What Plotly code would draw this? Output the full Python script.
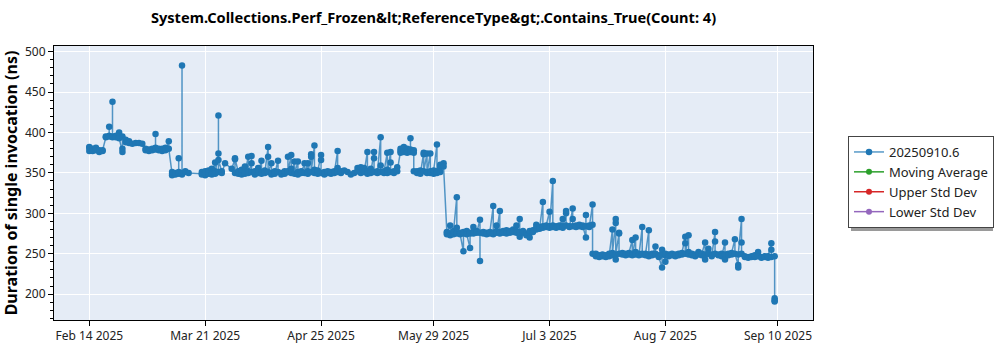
import plotly.graph_objects as go

# ---- data (one entry per day, several runs per day) ----
run_dates = [
    "2025-02-14", "2025-02-15", "2025-02-16", "2025-02-17", "2025-02-18", "2025-02-19", "2025-02-20",
    "2025-02-21", "2025-02-22", "2025-02-23", "2025-02-24", "2025-02-25", "2025-02-26", "2025-02-27",
    "2025-02-28", "2025-03-01", "2025-03-02", "2025-03-03", "2025-03-04", "2025-03-05", "2025-03-06",
    "2025-03-07", "2025-03-08", "2025-03-09", "2025-03-10", "2025-03-11", "2025-03-12", "2025-03-13",
    "2025-03-14", "2025-03-15", "2025-03-16", "2025-03-20", "2025-03-21", "2025-03-22", "2025-03-23",
    "2025-03-24", "2025-03-25", "2025-03-26", "2025-03-27", "2025-03-29", "2025-03-30", "2025-03-31",
    "2025-04-01", "2025-04-02", "2025-04-03", "2025-04-04", "2025-04-05", "2025-04-06", "2025-04-07",
    "2025-04-08", "2025-04-09", "2025-04-10", "2025-04-11", "2025-04-12", "2025-04-13", "2025-04-14",
    "2025-04-15", "2025-04-16", "2025-04-17", "2025-04-18", "2025-04-19", "2025-04-20", "2025-04-21",
    "2025-04-22", "2025-04-23", "2025-04-24", "2025-04-25", "2025-04-26", "2025-04-27", "2025-04-28",
    "2025-04-29", "2025-04-30", "2025-05-01", "2025-05-02", "2025-05-03", "2025-05-04", "2025-05-05",
    "2025-05-06", "2025-05-07", "2025-05-08", "2025-05-09", "2025-05-10", "2025-05-11", "2025-05-12",
    "2025-05-13", "2025-05-14", "2025-05-15", "2025-05-16", "2025-05-17", "2025-05-18", "2025-05-19",
    "2025-05-20", "2025-05-21", "2025-05-22", "2025-05-23", "2025-05-24", "2025-05-25", "2025-05-26",
    "2025-05-27", "2025-05-28", "2025-05-29", "2025-05-30", "2025-05-31", "2025-06-01", "2025-06-02",
    "2025-06-03", "2025-06-04", "2025-06-05", "2025-06-06", "2025-06-07", "2025-06-08", "2025-06-09",
    "2025-06-10", "2025-06-11", "2025-06-12", "2025-06-13", "2025-06-14", "2025-06-15", "2025-06-16",
    "2025-06-17", "2025-06-18", "2025-06-19", "2025-06-20", "2025-06-21", "2025-06-22", "2025-06-23",
    "2025-06-24", "2025-06-25", "2025-06-26", "2025-06-27", "2025-06-28", "2025-06-29", "2025-06-30",
    "2025-07-01", "2025-07-02", "2025-07-03", "2025-07-04", "2025-07-05", "2025-07-06", "2025-07-07",
    "2025-07-08", "2025-07-09", "2025-07-10", "2025-07-11", "2025-07-12", "2025-07-13", "2025-07-14",
    "2025-07-15", "2025-07-16", "2025-07-17", "2025-07-18", "2025-07-19", "2025-07-20", "2025-07-21",
    "2025-07-22", "2025-07-23", "2025-07-24", "2025-07-25", "2025-07-26", "2025-07-27", "2025-07-28",
    "2025-07-29", "2025-07-30", "2025-07-31", "2025-08-01", "2025-08-02", "2025-08-03", "2025-08-04",
    "2025-08-05", "2025-08-06", "2025-08-07", "2025-08-08", "2025-08-09", "2025-08-10", "2025-08-11",
    "2025-08-12", "2025-08-13", "2025-08-14", "2025-08-15", "2025-08-16", "2025-08-17", "2025-08-18",
    "2025-08-19", "2025-08-20", "2025-08-21", "2025-08-22", "2025-08-23", "2025-08-24", "2025-08-25",
    "2025-08-26", "2025-08-27", "2025-08-28", "2025-08-29", "2025-08-30", "2025-08-31", "2025-09-01",
    "2025-09-02", "2025-09-03", "2025-09-04", "2025-09-05", "2025-09-06", "2025-09-07", "2025-09-08",
    "2025-09-09",
]

run_values = [
    [382, 377, 381], [380, 377], [381, 378], [376, 378], [377, 378], [394, 395], [396, 407, 395],
    [395, 438, 394], [396, 394], [400, 395, 393], [376, 380, 395], [391, 388], [389, 387], [386],
    [387], [387], [386], [380, 378], [379, 377], [378, 380], [381, 398, 379],
    [378, 380], [379, 377, 380], [381, 378], [389, 380], [349, 347, 351], [350, 348], [349, 368, 351],
    [348, 483, 350], [351, 352], [350], [349, 351, 348], [352, 347, 350], [349, 353, 351], [355, 350, 348],
    [363, 352, 349], [374, 421, 351, 366], [352, 350], [362], [355], [367, 350, 368], [351, 349, 352],
    [350, 348, 354], [351, 358, 349], [370, 352, 350], [362, 371, 351], [350, 348, 352], [356, 350], [365, 351, 349],
    [353, 350], [382, 370, 351], [362, 350, 348], [352, 349], [365, 351], [350, 348], [349, 352],
    [351, 370, 352], [372, 355, 350], [364, 349], [364, 351, 348], [352, 350], [362, 350], [362, 352, 349],
    [373, 370, 351], [384, 354, 350], [351, 349, 353], [372, 366, 350], [351, 348], [350, 352], [349, 351],
    [352, 350], [377, 356, 351], [350, 352], [353], [351], [348], [350],
    [356, 352], [357, 350], [356, 351], [376, 352, 349], [355, 350], [376, 368, 351], [352, 350],
    [394, 359, 351], [350, 352], [375, 354, 350], [376, 363, 351], [352, 350], [357, 352], [377, 375, 380],
    [378, 382, 376], [380, 377, 375], [379, 393, 376], [378, 375, 352], [352, 350], [351, 353, 349], [375, 373, 352],
    [374, 351, 350], [374, 352, 350], [351, 349, 353], [385, 352, 350], [360, 357, 351], [362, 358], [276, 274, 277],
    [285, 275, 273], [276, 274, 278], [320, 282, 275], [276, 274], [253, 275, 277], [276, 278, 274], [257, 276, 275],
    [283, 277, 275], [278, 276], [292, 241, 276], [275, 277], [276, 274], [275, 277], [309, 276, 274],
    [278, 285, 276], [303, 277, 275], [278, 276], [277, 279, 275], [278, 276], [280, 277], [285, 278, 276],
    [293, 271, 277], [276, 278], [275, 273], [270, 276, 278], [279, 277], [286, 282, 280], [283, 281],
    [314, 284, 282], [283, 285], [302, 284, 282], [340, 285, 283], [284, 282], [283, 285], [293, 284, 282],
    [300, 303, 285], [284, 283], [306, 293, 284], [285, 283], [284, 286], [283, 285], [270, 298, 284],
    [285, 283], [311, 286, 250], [249, 247, 250], [248, 246], [247, 249], [246, 248], [250, 247],
    [280, 248, 251], [288, 293, 243, 249], [275, 276, 250], [251, 249], [250, 248], [249, 251], [267, 250, 248],
    [270, 252, 249], [250, 248], [283, 250, 249], [248, 250], [279, 249, 247], [250, 248], [259, 249, 250],
    [248, 246], [233, 249, 255], [240, 248, 250], [249, 247], [250, 248], [249, 247], [250, 248],
    [249, 251], [271, 263, 250], [273, 252, 249], [250, 248], [249, 247], [252, 249], [248, 250],
    [264, 243, 249], [256, 250], [249, 247], [277, 265, 250], [249, 248], [250, 247], [264, 249, 243],
    [250, 248], [249, 251], [268, 250], [236, 233, 249], [293, 264, 250], [247, 246], [246, 245],
    [247, 246], [246, 248], [252, 247], [246, 245], [247, 246], [245, 247], [263, 255, 246],
    [247, 195, 192, 191],
]

series_name = "20250910.6"
extra_series = ["Moving Average", "Upper Std Dev", "Lower Std Dev"]
extra_colors = ["#2ca02c", "#d62728", "#9467bd"]

tick_dates = ["2025-02-14", "2025-03-21", "2025-04-25", "2025-05-29", "2025-07-03", "2025-08-07", "2025-09-10"]
tick_labels = ["Feb 14 2025", "Mar 21 2025", "Apr 25 2025", "May 29 2025", "Jul 3 2025", "Aug 7 2025", "Sep 10 2025"]

title_text = "System.Collections.Perf_Frozen&amp;lt;ReferenceType&amp;gt;.Contains_True(Count: 4)"
y_title = "Duration of single invocation (ns)"

# flatten (runs on the same day share the day)
xs, ys = [], []
for d, vals in zip(run_dates, run_values):
    for v in vals:
        xs.append(d)
        ys.append(v)

FONT = "Noto Sans"
BLUE = "#1f77b4"

fig = go.Figure()
fig.add_trace(go.Scatter(
    x=xs, y=ys, mode="lines+markers", name=series_name,
    line=dict(color="rgba(31,119,180,0.75)", width=1.5),
    marker=dict(color=BLUE, size=6.5),
))
for nm, col in zip(extra_series, extra_colors):
    fig.add_trace(go.Scatter(
        x=[None], y=[None], mode="lines+markers", name=nm,
        line=dict(color=col, width=1.5), marker=dict(color=col, size=6),
    ))

W, H = 1000, 350
ML, MR, MT, MB = 54, 187, 46, 30
pw, ph = W - ML - MR, H - MT - MB

def px_to_paper_x(p):
    return (p - ML) / pw

def px_to_paper_y(p):
    return (H - MB - p) / ph

# legend shadow
fig.add_shape(type="rect", xref="paper", yref="paper",
              x0=px_to_paper_x(851), x1=px_to_paper_x(993),
              y0=px_to_paper_y(231), y1=px_to_paper_y(139),
              fillcolor="#9a9a9a", line=dict(width=0), layer="above")

fig.update_layout(
    width=W, height=H,
    margin=dict(l=ML, r=MR, t=MT, b=MB, autoexpand=False),
    paper_bgcolor="white",
    plot_bgcolor="#E5ECF6",
    font=dict(family=FONT, size=12, color="#222"),
    title=dict(text=title_text, x=0.5, xref="paper", y=1 - 18 / H, yref="container",
               xanchor="center", yanchor="middle",
               font=dict(family=FONT, size=14.6, color="black", weight="bold")),
    showlegend=True,
    legend=dict(x=848 / W, y=1 - 136 / H, xref="container", yref="container",
                xanchor="left", yanchor="top",
                bgcolor="white", bordercolor="#444", borderwidth=1,
                font=dict(family=FONT, size=13, color="#222"), itemwidth=30,
                entrywidth=97, entrywidthmode="pixels"),
    hovermode=False,
)

fig.update_xaxes(
    type="date",
    range=["2025-02-03 08:00", "2025-09-20 14:00"],
    tickvals=tick_dates, ticktext=tick_labels,
    showgrid=True, gridcolor="white", gridwidth=1,
    showline=True, linecolor="black", linewidth=1, mirror=True,
    ticks="outside", ticklen=5, tickcolor="black",
    tickfont=dict(family=FONT, size=12, color="#222"),
    zeroline=False,
)
fig.update_yaxes(
    range=[168, 507],
    tickvals=[200, 250, 300, 350, 400, 450, 500],
    showgrid=True, gridcolor="white", gridwidth=1,
    showline=True, linecolor="black", linewidth=1, mirror=True,
    ticks="outside", ticklen=5, tickcolor="black",
    minor=dict(dtick=10, ticks="outside", ticklen=3, tickcolor="black", showgrid=False),
    tickfont=dict(family=FONT, size=12, color="#222"),
    title=dict(text=y_title, font=dict(family=FONT, size=16, color="black", weight="bold"), standoff=8),
    zeroline=False,
)

fig.write_html("out.html")
